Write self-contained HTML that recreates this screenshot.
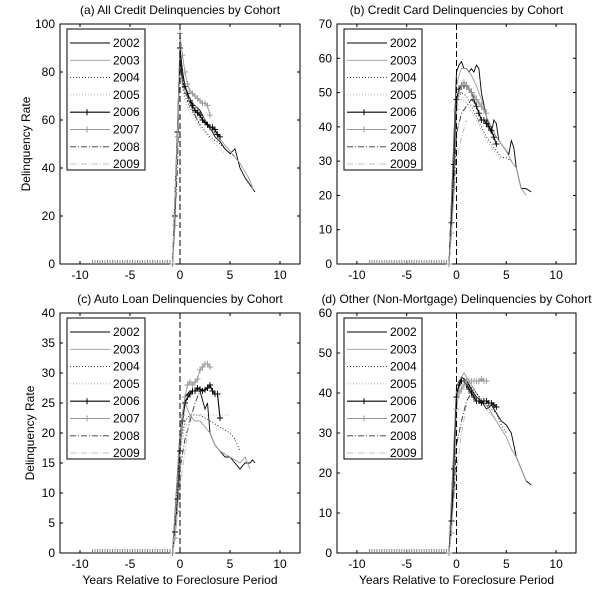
<!DOCTYPE html>
<html><head><meta charset="utf-8"><style>
body{margin:0;background:#fff}
svg{display:block;font-family:"Liberation Sans",Arial,sans-serif}
</style></head><body>
<svg id="fig" width="600" height="601" viewBox="0 0 600 601"></svg>
<script>
const years=["2002","2003","2004","2005","2006","2007","2008","2009"];
const xTicks=[-10,-5,0,5,10];
const q6=[-0.75,-0.5,-0.25,0,0.25,0.5,0.75,1,1.25,1.5,1.75,2,2.25,2.5,2.75,3,3.25,3.5,3.75,4];
const q7=[-0.75,-0.5,-0.25,0,0.25,0.5,0.75,1,1.25,1.5,1.75,2,2.25,2.5,2.75,3];
const preX=[-8.75,-8.5,-8.25,-8,-7.75,-7.5,-7.25,-7,-6.75,-6.5,-6.25,-6,-5.75,-5.5,-5.25,-5,-4.75,-4.5,-4.25,-4,-3.75,-3.5,-3.25,-3,-2.75,-2.5,-2.25,-2,-1.75,-1.5,-1.25,-1];

// Panel a
const aYTicks=[0,20,40,60,80,100];
const a02x=[-0.75,0,0.25,0.5,1,1.5,2,2.5,3,3.5,4,4.5,5,5.5,5.75,6,6.5,7,7.5];
const a02y=[0,85,76,72,68,66,64,60,57,53,51,48,46,48,44,40,36,33,30];
const a03x=[-0.75,0,0.25,0.5,1,2,3,4,5,6,7,7.3];
const a03y=[0,88,80,74,69,63,57,52,47,42,35,31];
const a04x=[-0.75,0,0.5,1,2,3,4,5,5.5];
const a04y=[0,80,70,65,58,53,50,46,45];
const a05x=[-0.75,0,0.5,1,2,3,4,4.5];
const a05y=[0,78,68,63,57,52,48,46];
const a06y=[0,20,55,90,80,74,71,68,66,64,63,62,60,59,58,57,57,56,54,53];
const a07y=[0,16,53,96,87,80,75,72,71,70,69,68,67,67,66,62];
const a08x=[-0.75,-0.25,0,0.25,0.5,1,1.5,2];
const a08y=[0,40,88,78,72,67,62,58];
const a09x=[-0.75,0,0.25,0.5,1];
const a09y=[0,80,75,72,68];

// Panel b
const bYTicks=[0,10,20,30,40,50,60,70];
const b02x=[-0.75,0,0.25,0.5,0.75,1,1.25,1.5,1.75,2,2.25,2.5,3,3.5,3.75,4,4.25,4.5,5,5.25,5.5,5.75,6,6.5,7,7.5];
const b02y=[0,56,58,59,57,57,56,57,56,58,57,50,43,38,42,41,36,35,33,32,36,34,28,22,22,21];
const b03x=[-0.75,0,0.25,0.5,1,1.5,2,2.5,3,3.5,4,4.5,5,5.5,6,6.5,7];
const b03y=[0,52,55,57,57,55,52,48,43,40,37,35,33,30,28,22,20];
const b04x=[-0.75,0,0.5,1,1.5,2,2.5,3,3.5,4,4.5,5,5.5];
const b04y=[0,48,50,49,46,43,40,37,35,33,31,31,30];
const b05x=[-0.75,0,0.5,1,2,3,4,4.5];
const b05y=[0,45,48,47,42,36,32,30];
const b06y=[0,12,29,48,51,52,52,52,51,50,48,46,44,42,42,41,40,39,37,35];
const b07y=[0,9,22,45,50,52,53,52,51,50,49,48,47,46,45,44];
const b08x=[-0.75,-0.25,0,0.5,1,1.5,2];
const b08y=[0,20,38,44,46,48,46];
const b09x=[-0.75,0,0.5,1];
const b09y=[0,30,37,42];

// Panel c
const cYTicks=[0,5,10,15,20,25,30,35,40];
const c02x=[-0.75,0,0.5,1,1.5,2,2.5,2.75,3,3.5,4,4.5,5,5.5,6,6.5,6.75,7,7.25,7.5];
const c02y=[0,20,26,27,27,27,24,25,20,18,17,16,16,15,14,15,15,15,15.5,15];
const c03x=[-0.75,0,0.5,1,1.5,2,3,3.5,4,5,6,6.5,7];
const c03y=[0,20,25,23,22,22,20,18,17,16,15,16,14];
const c04x=[-0.75,0,0.5,1,2,3,4,5,5.5,6];
const c04y=[0,18,22,23,23,22,21,20,19,17];
const c05x=[-0.75,0,0.5,1,2,3,4,5];
const c05y=[0,17,21,22,23,23,23,23];
const c06y=[0,3.5,9,17,22,25,26,26.5,27,27,27.5,27.3,27,27.2,27.5,28,27,26.5,26.5,22.5];
const c07y=[0,2.5,7,16,23,26,28,28.5,28,28.5,29,30.5,31,31.5,31.5,31];
const c08x=[-0.75,-0.25,0,0.5,1,1.5,2];
const c08y=[0,8,14,19,22,25,27];
const c09x=[-0.75,0,0.5,1];
const c09y=[0,11,17,23];

// Panel d
const dYTicks=[0,10,20,30,40,50,60];
const d02x=[-0.75,0,0.5,1,1.5,2,2.5,3,3.5,4,4.5,5,5.5,6,6.5,7,7.5];
const d02y=[0,40,44,43,41,39,38,36,37,35,33,32,30,24,21,18,17];
const d03x=[-0.75,0,0.5,0.75,1,1.5,2,2.5,3,3.5,4,4.5,5,5.5,6,6.5,7];
const d03y=[0,42,44,45,44,42,40,38,37,35,33,31,29,26,24,21,18];
const d04x=[-0.75,0,0.5,1,2,3,4,4.5,5];
const d04y=[0,40,43,43,40,37,35,32,30];
const d05x=[-0.75,0,0.5,1,2,3,4];
const d05y=[0,38,41,42,39,36,33];
const d06y=[0,8,21,39,42,43,43,42,41,40,39,38,38,37.5,38,38,37.5,37.5,37,36.5];
const d07y=[0,5,16,36,40,41,42,43,43,43,43,43,43,43.5,43,43];
const d08x=[-0.75,-0.25,0,0.5,1,1.5];
const d08y=[0,15,27,33,38,40];
const d09x=[-0.75,0,0.5,1];
const d09y=[0,20,30,37];

const NS="http://www.w3.org/2000/svg";
const svg=document.getElementById('fig');
function mk(tag,attrs,parent){const e=document.createElementNS(NS,tag);for(const k in attrs)e.setAttribute(k,attrs[k]);(parent||svg).appendChild(e);return e;}
const styles=[
 {c:"#000",d:"",w:0.9},{c:"#999",d:"",w:0.9},{c:"#000",d:"1,2",w:0.8},{c:"#999",d:"1,2",w:0.8},
 {c:"#000",d:"",w:1.1,m:1},{c:"#999",d:"",w:0.9,m:1},{c:"#333",d:"6,2,1,2",w:0.9},{c:"#bbb",d:"6,2,1,2",w:0.9}];

function panel(id,L,R,T,B,ymax,yTicks,title,series,showXLabel){
 const g=mk('g',{});
 
 
 const sx=v=>L+(v+12)/24*(R-L);
 const sy=v=>B-v/ymax*(B-T);
 const t=mk('text',{x:(L+R)/2,y:T-10,'text-anchor':'middle','font-size':12,fill:'#000'},g);
 t.textContent=title;
 
 
 mk('rect',{x:L,y:T,width:R-L,height:B-T,fill:'#fff',stroke:'#000','stroke-width':1},g);
 xTicks.forEach(v=>{
  const x=sx(v);
  mk('line',{x1:x,x2:x,y1:B,y2:B-3,stroke:'#000'},g);
  mk('line',{x1:x,x2:x,y1:T,y2:T+3,stroke:'#000'},g);
  const tl=mk('text',{x:x,y:B+15,'text-anchor':'middle','font-size':12},g);
  tl.textContent=v;
  
  
 });
 yTicks.forEach(v=>{
  const y=sy(v);
  mk('line',{x1:L,x2:L+3,y1:y,y2:y,stroke:'#000'},g);
  mk('line',{x1:R,x2:R-3,y1:y,y2:y,stroke:'#000'},g);
  const tl=mk('text',{x:L-5,y:y+4,'text-anchor':'end','font-size':12},g);
  tl.textContent=v;
  
  
 });
 preX.forEach(v=>{const x=sx(v),y=sy(0);mk('line',{x1:x,x2:x,y1:y-4,y2:y,stroke:'#888','stroke-width':1},g);});
 series.forEach((s,i)=>{
  const st=styles[i];
  const pts=s[0].map((x,k)=>sx(x).toFixed(1)+','+sy(s[1][k]).toFixed(1)).join(' ');
  const pl=mk('polyline',{points:pts,fill:'none',stroke:st.c,'stroke-width':st.w,'stroke-dasharray':st.d},g);
  
  
  if(st.m){s[0].forEach((x,k)=>{const px=sx(x),py=sy(s[1][k]);
   mk('path',{d:`M${px-3},${py}H${px+3}M${px},${py-3}V${py+3}`,stroke:st.c,'stroke-width':0.9},g);});}
 });
 mk('line',{x1:sx(0),x2:sx(0),y1:T,y2:B,stroke:'#000','stroke-dasharray':'6,3','stroke-width':1},g);
 const lx=L+7,ly=T+5;
 const lg=mk('g',{},g);
 
 
 mk('rect',{x:lx,y:ly,width:78,height:141,fill:'#fff',stroke:'#000','stroke-width':1},lg);
 years.forEach((yr,i)=>{
  const st=styles[i];const yy=ly+14+i*17.3;
  mk('line',{x1:lx+3,x2:lx+43,y1:yy,y2:yy,stroke:st.c,'stroke-width':st.w,'stroke-dasharray':st.d},lg);
  if(st.m)mk('path',{d:`M${lx+20},${yy-3}V${yy+3}`,stroke:st.c},lg);
  const tx=mk('text',{x:lx+46,y:yy+4,'font-size':12},lg);
  tx.textContent=yr;
  
  
 });
 if(L<100){
  const yl=mk('text',{x:0,y:0,'text-anchor':'middle','font-size':12,transform:`translate(${L-(ymax>=100?30:26)},${(T+B)/2}) rotate(-90)`},g);
  yl.textContent='Delinquency Rate';
  
  
 }
 if(showXLabel){
  const xl=mk('text',{x:(L+R)/2,y:B+31,'text-anchor':'middle','font-size':12},g);
  xl.textContent='Years Relative to Foreclosure Period';
  
  
 }
}
panel('a',60,300,24,264,100,aYTicks,'(a) All Credit Delinquencies by Cohort',
 [[a02x,a02y],[a03x,a03y],[a04x,a04y],[a05x,a05y],[q6,a06y],[q7,a07y],[a08x,a08y],[a09x,a09y]],false);
panel('b',337,576,24,264,70,bYTicks,'(b) Credit Card Delinquencies by Cohort',
 [[b02x,b02y],[b03x,b03y],[b04x,b04y],[b05x,b05y],[q6,b06y],[q7,b07y],[b08x,b08y],[b09x,b09y]],false);
panel('c',60,300,313,553,40,cYTicks,'(c) Auto Loan Delinquencies by Cohort',
 [[c02x,c02y],[c03x,c03y],[c04x,c04y],[c05x,c05y],[q6,c06y],[q7,c07y],[c08x,c08y],[c09x,c09y]],true);
panel('d',337,576,313,553,60,dYTicks,'(d) Other (Non-Mortgage) Delinquencies by Cohort',
 [[d02x,d02y],[d03x,d03y],[d04x,d04y],[d05x,d05y],[q6,d06y],[q7,d07y],[d08x,d08y],[d09x,d09y]],true);
</script>
</body></html>
